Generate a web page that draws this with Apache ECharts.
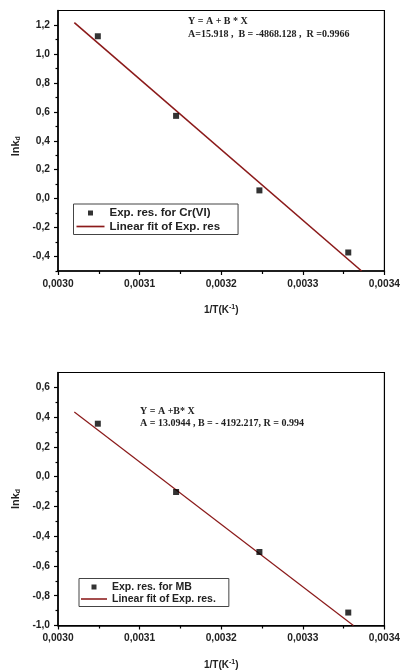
<!DOCTYPE html>
<html>
<head>
<meta charset="utf-8">
<script src="https://cdn.jsdelivr.net/npm/echarts@6/dist/echarts.min.js"></script>
<style>html,body{margin:0;padding:0;background:#fff}#c{width:403px;height:671px}</style>
</head>
<body>
<div id="c"></div>
<script>
// ---- data ----
var xExp = [0.0030488, 0.0031447, 0.0032468, 0.0033557];
var yCr = [1.122, 0.572, 0.057, -0.372];
var yMB = [0.356, -0.103, -0.506, -0.913];
var fitCrX = [0.00302, 0.003372];
var fitCrY = [1.216, -0.5];
var fitMBX = [0.00302, 0.003362];
var fitMBY = [0.434, -1.0];
var xTicks = [0.0030, 0.0031, 0.0032, 0.0033, 0.0034];
var xMinorTicks = [0.00305, 0.00315, 0.00325, 0.00335];
var yTicksCr = [-0.4, -0.2, 0.0, 0.2, 0.4, 0.6, 0.8, 1.0, 1.2];
var yMinorCr = [-0.5, -0.3, -0.1, 0.1, 0.3, 0.5, 0.7, 0.9, 1.1];
var yTicksMB = [-1.0, -0.8, -0.6, -0.4, -0.2, 0.0, 0.2, 0.4, 0.6];
var yMinorMB = [-0.9, -0.7, -0.5, -0.3, -0.1, 0.1, 0.3, 0.5];
var legendCr = ['Exp. res. for Cr(VI)', 'Linear fit of Exp. res'];
var legendMB = ['Exp. res. for MB', 'Linear fit of Exp. res.'];
var eqCr = ['Y = A + B * X', 'A=15.918 ,  B = -4868.128 ,  R =0.9966'];
var eqMB = ['Y = A +B* X', 'A = 13.0944 , B = - 4192.217, R = 0.994'];

function pairs(xs, ys) { return xs.map(function (x, i) { return [x, ys[i]]; }); }

var FIT = '#8b1a1a';
var SQUARE = 'path://M0,0L10,0L10,10L0,10Z';
var LINE = 'path://M0,0L100,0L100,6L0,6Z';
var lblFont = { fontFamily: 'Liberation Sans, Arial, sans-serif', fontWeight: 'bold', fontSize: 10.2, color: '#222' };

function xAxes(gi) {
  return [{
    type: 'value', gridIndex: gi, min: 0.0030, max: 0.0034, position: 'bottom',
    axisLine: { show: true, onZero: false, lineStyle: { color: '#000', width: 1.5 } },
    axisTick: { show: true, customValues: xTicks, length: 4, lineStyle: { color: '#000', width: 1.2 } },
    axisLabel: Object.assign({ customValues: xTicks, margin: 8, formatter: function (v) { return v.toFixed(4).replace('.', ','); } }, lblFont),
    splitLine: { show: false },
    name: '1/T(K{sup|-1})', nameLocation: 'middle', nameGap: 33,
    nameTextStyle: {
      fontFamily: 'Liberation Sans, Arial, sans-serif', fontWeight: 'bold', fontSize: 10, color: '#222',
      rich: { sup: { fontSize: 7, fontWeight: 'bold', color: '#222', verticalAlign: 'top', padding: [0, 0, 6, 0] } }
    }
  }, {
    type: 'value', gridIndex: gi, min: 0.0030, max: 0.0034, position: 'bottom',
    axisLine: { show: false, onZero: false },
    axisTick: { show: true, customValues: xMinorTicks, length: 3, lineStyle: { color: '#000', width: 1.2 } },
    axisLabel: { show: false }, splitLine: { show: false }
  }];
}
function yAxes(gi, mn, mx, ticks, minor, namePad) {
  return [{
    type: 'value', gridIndex: gi, min: mn, max: mx, position: 'left',
    axisLine: { show: true, onZero: false, lineStyle: { color: '#000', width: 1.5 } },
    axisTick: { show: true, customValues: ticks, length: 4, lineStyle: { color: '#000', width: 1.2 } },
    axisLabel: Object.assign({ customValues: ticks, margin: 8, formatter: function (v) { return v.toFixed(1).replace('.', ','); } }, lblFont),
    splitLine: { show: false },
    name: 'lnk{sub|d}', nameLocation: 'middle', nameGap: 35, nameRotate: 90,
    nameTextStyle: {
      fontFamily: 'Liberation Sans, Arial, sans-serif', fontWeight: 'bold', fontSize: 11, color: '#222',
      padding: namePad,
      rich: { sub: { fontSize: 7, fontWeight: 'bold', color: '#222', verticalAlign: 'bottom', padding: [5, 0, 0, 0] } }
    }
  }, {
    type: 'value', gridIndex: gi, min: mn, max: mx, position: 'left',
    axisLine: { show: false, onZero: false },
    axisTick: { show: true, customValues: minor, length: 2.5, lineStyle: { color: '#000', width: 1.2 } },
    axisLabel: { show: false }, splitLine: { show: false }
  }];
}

var option = {
  animation: false,
  backgroundColor: '#fff',
  grid: [
    { left: 58, right: 16.5, top: 10.5, height: 260.5, show: true, borderColor: '#000', borderWidth: 1.2 },
    { left: 58, right: 16.5, top: 372.5, height: 260.5, show: true, borderColor: '#000', borderWidth: 1.2 }
  ],
  xAxis: xAxes(0).concat(xAxes(1)),
  yAxis: yAxes(0, -0.5, 1.3, yTicksCr, yMinorCr, [0, 11, 0, 0]).concat(yAxes(1, -1.0, 0.7, yTicksMB, yMinorMB, [0, 0, 0, 0])),
  legend: [{
    data: [{ name: legendCr[0], icon: SQUARE }, { name: legendCr[1], icon: LINE }],
    orient: 'vertical', left: 73.5, top: 204,
    itemWidth: 28, itemHeight: 5, itemGap: 1.5,
    padding: [3, 18, 2, 3],
    borderColor: '#444', borderWidth: 1,
    textStyle: { fontFamily: 'Liberation Sans, Arial, sans-serif', fontWeight: 'bold', fontSize: 11.5, color: '#222' }
  }, {
    data: [{ name: legendMB[0], icon: SQUARE }, { name: legendMB[1], icon: LINE }],
    orient: 'vertical', left: 79, top: 578.5,
    itemWidth: 26, itemHeight: 5, itemGap: 1,
    padding: [3, 13, 2, 2],
    borderColor: '#444', borderWidth: 1,
    textStyle: { fontFamily: 'Liberation Sans, Arial, sans-serif', fontWeight: 'bold', fontSize: 10.5, color: '#222' }
  }],
  graphic: [
    { type: 'text', left: 188, top: 14.5, style: { text: eqCr[0] + '\n' + eqCr[1], fontFamily: 'Liberation Serif, Times New Roman, serif', fontWeight: 'bold', fontSize: 10, lineHeight: 13, fill: '#222' } },
    { type: 'text', left: 140, top: 405.5, style: { text: eqMB[0] + '\n' + eqMB[1], fontFamily: 'Liberation Serif, Times New Roman, serif', fontWeight: 'bold', fontSize: 10, lineHeight: 12, fill: '#222' } }
  ],
  series: [
    { name: legendCr[0], type: 'scatter', xAxisIndex: 0, yAxisIndex: 0, symbol: 'rect', symbolSize: 6, itemStyle: { color: '#000' }, data: pairs(xExp, yCr), z: 3 },
    { name: legendCr[1], type: 'line', xAxisIndex: 0, yAxisIndex: 0, symbol: 'none', lineStyle: { color: FIT, width: 1.6 }, itemStyle: { color: FIT }, data: pairs(fitCrX, fitCrY) },
    { name: legendMB[0], type: 'scatter', xAxisIndex: 2, yAxisIndex: 2, symbol: 'rect', symbolSize: 6, itemStyle: { color: '#000' }, data: pairs(xExp, yMB), z: 3 },
    { name: legendMB[1], type: 'line', xAxisIndex: 2, yAxisIndex: 2, symbol: 'none', lineStyle: { color: FIT, width: 1.2 }, itemStyle: { color: FIT }, data: pairs(fitMBX, fitMBY) }
  ]
};
var chart = echarts.init(document.getElementById('c'), null, { renderer: 'canvas' });
chart.setOption(option);
</script>
</body>
</html>
